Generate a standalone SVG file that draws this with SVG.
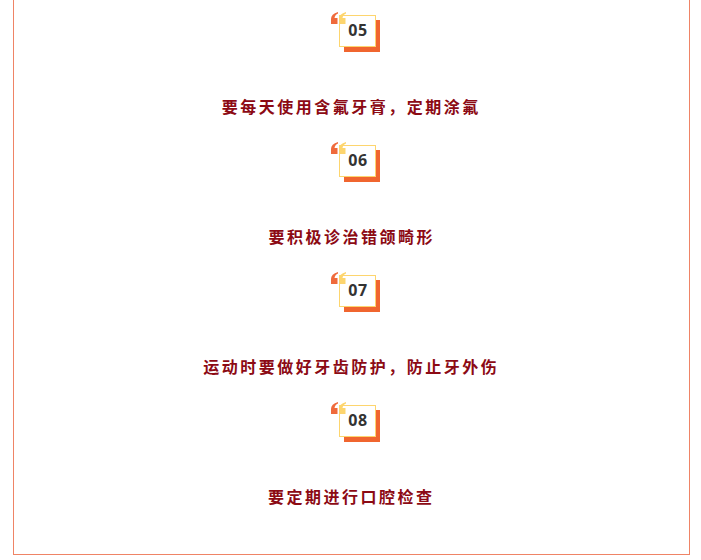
<svg xmlns="http://www.w3.org/2000/svg" width="701" height="560" viewBox="0 0 701 560">
<defs>
<style>
.frame{fill:none;stroke:#ef8466;stroke-width:1}
.shadow{fill:#f0652f}
.box{fill:#fff;stroke:#fdd56e;stroke-width:1}
.q1{fill:#ef6a3c}
.q2{fill:#fdd56e}
.num{font-family:"Open Sans","DejaVu Sans",sans-serif;font-weight:700;font-size:16px;fill:#333;text-anchor:middle;letter-spacing:0.5px}
.tip{font-family:"Noto Sans CJK SC",sans-serif;font-weight:700;font-size:16px;fill:#8c0a14;text-anchor:middle;letter-spacing:2.5px}
</style>
<g id="badge">
<rect class="shadow" x="344" y="20" width="36" height="32"/>
<rect class="box" x="339.5" y="15.5" width="36" height="31"/>
<path class="q1" d="M338,12 Q331,14 331,19 L331,24 L337.5,24 L337.5,18 L334.5,18 Q335,14.5 338,13.5 Z"/>
<path class="q2" d="M346,12 Q339,14 339,19 L339,24 L345.5,24 L345.5,18 L342.5,18 Q343,14.5 346,13.5 Z"/>
</g>
</defs>
<rect class="frame" x="13.5" y="-10" width="676" height="564.5"/>
<g id="item05">
<use href="#badge"/>
<text class="num" x="358" y="36">05</text>
<text class="tip" x="351.3" y="113">要每天使用含氟牙膏，定期涂氟</text>
</g>
<g id="item06">
<use href="#badge" y="130"/>
<text class="num" x="358" y="166">06</text>
<text class="tip" x="351.8" y="243">要积极诊治错颌畸形</text>
</g>
<g id="item07">
<use href="#badge" y="260"/>
<text class="num" x="358" y="296">07</text>
<text class="tip" x="351.3" y="373">运动时要做好牙齿防护，防止牙外伤</text>
</g>
<g id="item08">
<use href="#badge" y="390"/>
<text class="num" x="358" y="426">08</text>
<text class="tip" x="351.3" y="503">要定期进行口腔检查</text>
</g>
<g id="connectors"/>
</svg>
